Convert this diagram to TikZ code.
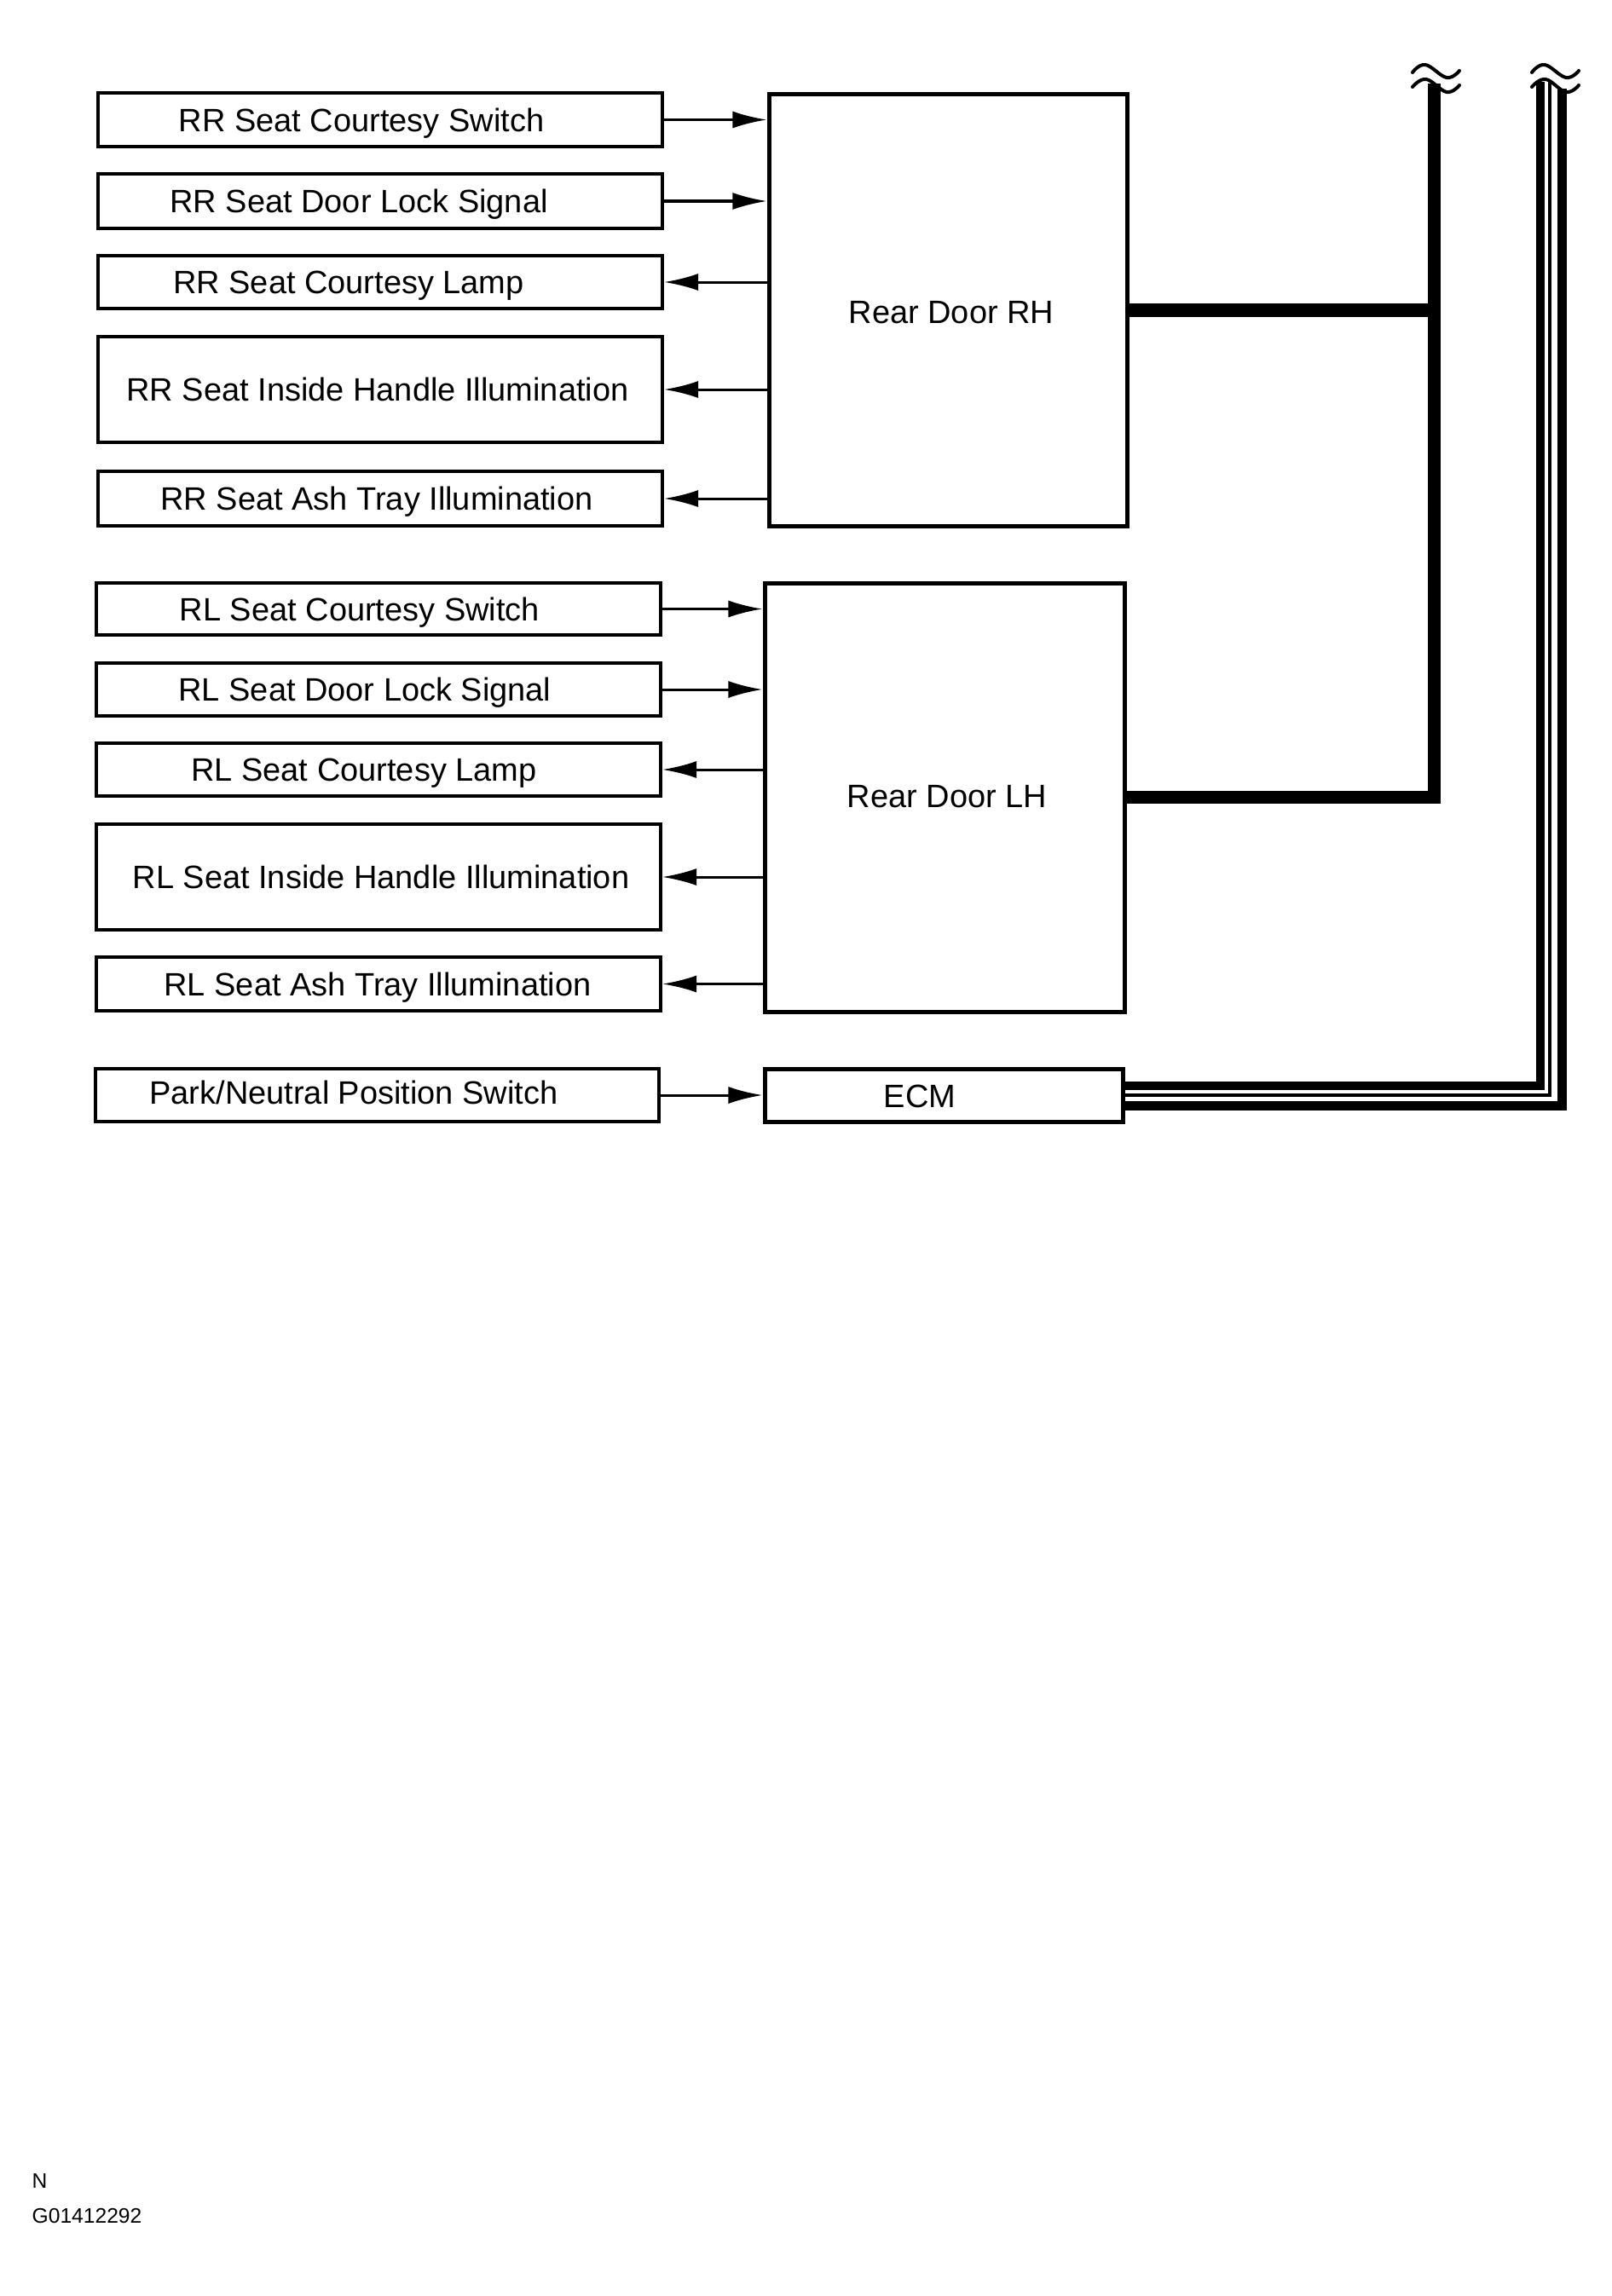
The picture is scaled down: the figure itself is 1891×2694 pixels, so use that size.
\documentclass[tikz,border=0pt]{standalone}
\usepackage{fontspec}
\setmainfont{Liberation Sans}
\usetikzlibrary{arrows.meta,fit}
\begin{document}
\begin{tikzpicture}[x=0.01cm,y=-0.01cm,
  sbox/.style={draw, line width=0.04cm, inner sep=0pt, fit={#1}},
  dbox/.style={draw, line width=0.05cm, inner sep=0pt, fit={#1}},
  lbl/.style={inner sep=0pt, font=\fontsize{10.8}{13}\selectfont, text height=7.75pt, text depth=0pt},
  note/.style={inner sep=0pt, font=\fontsize{7}{8}\selectfont, anchor=base west},
  arr/.style={line width=0.03cm, -{Latex[length=0.4cm,width=0.2cm]}},
  bus/.style={line width=0.15cm},
  wave/.style={line width=0.04cm, line cap=round}]
\useasboundingbox (0,0) rectangle (1891,2694);

% Rear Door RH group
\node[sbox={(115,109) (777,172)}] (rr1) {};
\node[sbox={(115,204) (777,268)}] (rr2) {};
\node[sbox={(115,300) (777,362)}] (rr3) {};
\node[sbox={(115,395) (777,519)}] (rr4) {};
\node[sbox={(115,553) (777,617)}] (rr5) {};
\node[dbox={(902,111) (1322,617)}] (rh) {};
\node[lbl] (rr1t) at (424,140.5) {RR Seat Courtesy Switch};
\node[lbl] (rr2t) at (421,236) {RR Seat Door Lock Signal};
\node[lbl] (rr3t) at (409,331) {RR Seat Courtesy Lamp};
\node[lbl] (rr4t) at (443,457) {RR Seat Inside Handle Illumination};
\node[lbl] (rr5t) at (442,585) {RR Seat Ash Tray Illumination};
\node[lbl] (rht) at (1116,366) {Rear Door RH};

% Rear Door LH group
\node[sbox={(113,684) (775,745)}] (rl1) {};
\node[sbox={(113,778) (775,840)}] (rl2) {};
\node[sbox={(113,872) (775,934)}] (rl3) {};
\node[sbox={(113,967) (775,1091)}] (rl4) {};
\node[sbox={(113,1123) (775,1186)}] (rl5) {};
\node[dbox={(897,684) (1319,1187)}] (lh) {};
\node[lbl] (rl1t) at (422,714.5) {RL Seat Courtesy Switch};
\node[lbl] (rl2t) at (428,809) {RL Seat Door Lock Signal};
\node[lbl] (rl3t) at (427,903) {RL Seat Courtesy Lamp};
\node[lbl] (rl4t) at (447,1029) {RL Seat Inside Handle Illumination};
\node[lbl] (rl5t) at (443,1154.5) {RL Seat Ash Tray Illumination};
\node[lbl] (lht) at (1111,934) {Rear Door LH};

% ECM
\node[sbox={(112,1254) (773,1316)}] (pn) {};
\node[dbox={(897,1254) (1317,1316)}] (ecm) {};
\node[lbl] (pnt) at (415,1282) {Park/Neutral Position Switch};
\node[lbl] (ecmt) at (1079,1286) {ECM};

% arrows
\draw[arr] (rr1.east) -- (rr1.east -| rh.west);
\draw[arr] (rr2.east) -- (rr2.east -| rh.west);
\draw[arr] (rr3.east -| rh.west) -- (rr3.east);
\draw[arr] (rr4.east -| rh.west) -- (rr4.east);
\draw[arr] (rr5.east -| rh.west) -- (rr5.east);
\draw[arr] (rl1.east) -- (rl1.east -| lh.west);
\draw[arr] (rl2.east) -- (rl2.east -| lh.west);
\draw[arr] (rl3.east -| lh.west) -- (rl3.east);
\draw[arr] (rl4.east -| lh.west) -- (rl4.east);
\draw[arr] (rl5.east -| lh.west) -- (rl5.east);
\draw[arr] (pn.east) -- (pn.east -| ecm.west);

% thick bus
\coordinate (busTop) at (1682,98);
\draw[bus] (lh.east) -| (busTop);
\draw[bus] (rh.east) -- (rh.east -| busTop);

% triple line from ECM
\coordinate (t1) at (1807,96);
\coordinate (t2) at (1818,96);
\coordinate (t3) at (1832,104);
\draw[line width=0.1cm] (ecm.east |- 0,1274) -| (t1);
\draw[line width=0.04cm] (ecm.east |- 0,1285) -| (t2);
\draw[line width=0.11cm] (ecm.east |- 0,1297) -| (t3);

% break symbols
\foreach \dx in {0,140} {
  \draw[wave] plot[smooth, tension=0.7] coordinates {(1657+\dx,85) (1672+\dx,76) (1697+\dx,91) (1712+\dx,83)};
  \draw[wave] plot[smooth, tension=0.7] coordinates {(1657+\dx,102) (1673+\dx,93) (1697+\dx,108) (1712+\dx,100)};
}

% footer
\node[note] (nmark) at (37,2567) {N};
\node[note] (gcode) at (37,2608) {G01412292};
\end{tikzpicture}
\end{document}
